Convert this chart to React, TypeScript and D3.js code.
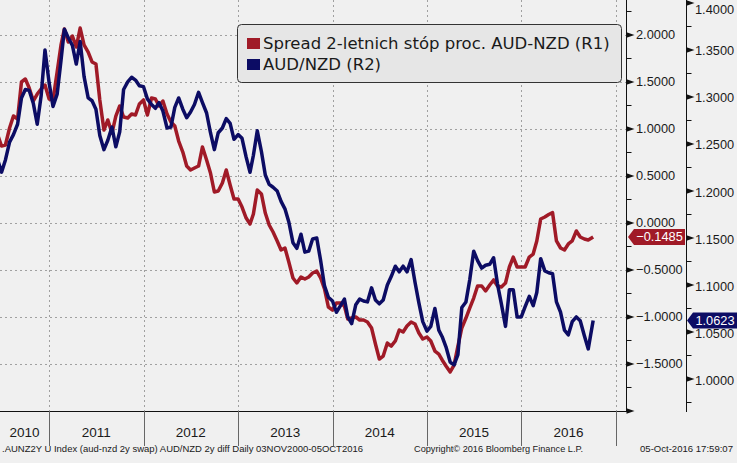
import React from "react";
import * as d3 from "d3";

// Semi-monthly samples starting 2010-06-16, last point 2016-10-05
const spread = [
  0.936, 0.819, 0.830, 1.011, 1.138, 1.106, 1.500, 1.532, 1.436, 1.298,
  1.372, 1.426, 1.468, 1.319, 1.309, 1.606, 1.894, 2.064, 1.926, 1.989,
  1.872, 2.074, 1.894, 1.819, 1.713, 1.691, 1.309, 0.989, 1.096, 0.957,
  1.138, 1.245, 1.128, 1.117, 1.160, 1.149, 1.266, 1.309, 1.149, 1.330,
  1.319, 1.245, 1.298, 1.160, 1.074, 1.032, 0.872, 0.755, 0.606, 0.564,
  0.585, 0.606, 0.809, 0.670, 0.532, 0.330, 0.340, 0.426, 0.564, 0.404,
  0.255, 0.255, 0.170, 0.053, -0.011, 0.096, 0.351, 0.309, 0.106, -0.021,
  -0.096, -0.191, -0.287, -0.266, -0.415, -0.585, -0.638, -0.574, -0.596, -0.574,
  -0.532, -0.511, -0.585, -0.702, -0.894, -0.926, -0.851, -0.851, -0.883, -1.021,
  -1.011, -1.000, -1.032, -1.032, -1.053, -1.117, -1.287, -1.447, -1.415, -1.277,
  -1.309, -1.255, -1.138, -1.160, -1.096, -1.053, -1.074, -1.170, -1.234, -1.213,
  -1.255, -1.362, -1.394, -1.457, -1.521, -1.585, -1.511, -1.309, -1.117, -1.011,
  -0.904, -0.798, -0.670, -0.670, -0.723, -0.660, -0.606, -0.670, -0.681, -0.638,
  -0.468, -0.362, -0.468, -0.468, -0.468, -0.362, -0.330, -0.191, 0.043, 0.064,
  0.090, 0.110, -0.191, -0.266, -0.287, -0.223, -0.191, -0.085, -0.149, -0.170,
  -0.181,
];

const audnzd = [
  1.233, 1.220, 1.233, 1.252, 1.260, 1.271, 1.299, 1.308, 1.307, 1.293,
  1.271, 1.301, 1.350, 1.315, 1.290, 1.303, 1.339, 1.372, 1.363, 1.355,
  1.335, 1.359, 1.322, 1.299, 1.296, 1.287, 1.259, 1.244, 1.254, 1.268,
  1.247, 1.263, 1.308, 1.316, 1.321, 1.318, 1.312, 1.311, 1.298, 1.292,
  1.288, 1.294, 1.285, 1.267, 1.268, 1.289, 1.299, 1.287, 1.278, 1.284,
  1.292, 1.305, 1.294, 1.283, 1.262, 1.244, 1.262, 1.267, 1.277, 1.272,
  1.255, 1.260, 1.256, 1.236, 1.220, 1.238, 1.264, 1.242, 1.217, 1.207,
  1.204, 1.200, 1.189, 1.181, 1.167, 1.145, 1.139, 1.154, 1.135, 1.136,
  1.149, 1.150, 1.126, 1.099, 1.087, 1.083, 1.071, 1.078, 1.085, 1.066,
  1.059, 1.079, 1.085, 1.083, 1.082, 1.097, 1.084, 1.080, 1.084, 1.100,
  1.109, 1.120, 1.114, 1.120, 1.114, 1.127, 1.103, 1.081, 1.061, 1.051,
  1.056, 1.075, 1.052, 1.045, 1.034, 1.018, 1.015, 1.026, 1.076, 1.082,
  1.106, 1.136, 1.126, 1.118, 1.121, 1.122, 1.129, 1.101, 1.080, 1.056,
  1.095, 1.095, 1.066, 1.066, 1.077, 1.088, 1.078, 1.092, 1.128, 1.115,
  1.113, 1.112, 1.082, 1.071, 1.052, 1.047, 1.061, 1.066, 1.062, 1.046,
  1.032,
];

const lastDate = new Date(2016, 9, 5);
const lastSpread = -0.1485;
const lastAudNzd = 1.0623;

const years = [2010, 2011, 2012, 2013, 2014, 2015, 2016, 2017];
const r1Ticks = [-2.0, -1.5, -1.0, -0.5, 0.0, 0.5, 1.0, 1.5, 2.0];
const r1Minor = [-1.75, -1.25, -0.75, -0.25, 0.25, 0.75, 1.25, 1.75, 2.25];
const r2Ticks = [1.0, 1.05, 1.1, 1.15, 1.2, 1.25, 1.3, 1.35, 1.4];
const r2Minor = [0.975, 1.025, 1.075, 1.125, 1.175, 1.225, 1.275, 1.325, 1.375];

const legendLabels = ["Spread 2-letnich stóp proc. AUD-NZD (R1)", "AUD/NZD (R2)"];
const footerLeft = ".AUNZ2Y U Index (aud-nzd 2y swap) AUD/NZD 2y diff  Daily 03NOV2000-05OCT2016";
const footerMid = "Copyright\u00A9 2016 Bloomberg Finance L.P.";
const footerRight = "05-Oct-2016 17:59:07";

const RED = "#a01a27";
const NAVY = "#0c0c64";
const BG = "#f0f0f0";

function sampleDate(k: number) {
  const m = 5 + Math.floor((k + 1) / 2);
  const day = (k + 1) % 2 === 0 ? 1 : 16;
  return new Date(2010, m, day);
}

export default function App() {
  const W = 737, H = 463;
  const plotR = 626, plotB = 411;
  const ax1 = 626.5, ax2 = 686.5;

  const x = d3.scaleTime().domain([new Date(2010, 5, 25), new Date(2017, 1, 9)]).range([0, plotR]);
  const yL = d3.scaleLinear().domain([-2, 2.3723]).range([plotB, 0]);
  const yR = d3.scaleLinear().domain([0.96596, 1.40319]).range([plotB, 0]);

  const redPts: [Date, number][] = spread.map((v, i) => [sampleDate(i), v]);
  redPts.push([lastDate, lastSpread]);
  const bluePts: [Date, number][] = audnzd.map((v, i) => [sampleDate(i), v]);
  bluePts.push([lastDate, lastAudNzd]);

  const redLine = d3.line<[Date, number]>().x(d => x(d[0])).y(d => yL(d[1]))(redPts) || "";
  const blueLine = d3.line<[Date, number]>().x(d => x(d[0])).y(d => yR(d[1]))(bluePts) || "";

  const yearX = years.map(y => x(new Date(y, 0, 1)));
  const tickFont = "'Liberation Sans', Arial, sans-serif";

  const tri = (ax: number, y: number) => `${ax},${y - 2.8} ${ax + 8},${y} ${ax},${y + 2.8}`;

  const redY = yL(lastSpread);
  const blueY = yR(lastAudNzd);

  return (
    <svg width={W} height={H} style={{ position: "fixed", left: 0, top: 0, display: "block" }}>
      <defs>
        <clipPath id="plotClip">
          <rect x={0} y={0} width={plotR} height={plotB} />
        </clipPath>
      </defs>
      <rect x={0} y={0} width={W} height={H} fill={BG} />

      {/* horizontal grid */}
      {r1Ticks.filter(v => v > -2).map(v => (
        <line key={"hg" + v} x1={0} x2={plotR} y1={yL(v) + 0.5} y2={yL(v) + 0.5}
          stroke="#a0a0a0" strokeWidth={1} strokeDasharray="2,3" />
      ))}
      {/* vertical grid */}
      {yearX.map((xx, i) => xx > 0 && xx < plotR ? (
        <line key={"vg" + i} x1={Math.round(xx) + 0.5} x2={Math.round(xx) + 0.5} y1={0} y2={plotB}
          stroke="#a0a0a0" strokeWidth={1} strokeDasharray="2,3" />
      ) : null)}

      {/* series */}
      <g clipPath="url(#plotClip)">
        <path d={redLine} fill="none" stroke={RED} strokeWidth={3.5} strokeLinejoin="round" />
        <path d={blueLine} fill="none" stroke={NAVY} strokeWidth={3.5} strokeLinejoin="round" />
      </g>

      {/* frame lines */}
      <line x1={0} x2={ax1} y1={plotB + 0.5} y2={plotB + 0.5} stroke="#111" strokeWidth={1} />
      <line x1={ax1} x2={ax1} y1={0} y2={plotB + 1} stroke="#111" strokeWidth={1} />
      <line x1={ax2} x2={ax2} y1={0} y2={plotB + 1} stroke="#111" strokeWidth={1} />

      {/* bottom year separators and labels */}
      {yearX.map((xx, i) => xx > 0 && xx < plotR ? (
        <line key={"ys" + i} x1={Math.round(xx) + 0.5} x2={Math.round(xx) + 0.5} y1={plotB} y2={446}
          stroke="#666" strokeWidth={1} />
      ) : null)}
      {years.slice(0, -1).map((yr, i) => {
        const a = Math.max(0, yearX[i]);
        const b = Math.min(plotR, yearX[i + 1]);
        if (b - a < 30) return null;
        return (
          <text key={"yl" + yr} x={(a + b) / 2} y={437} textAnchor="middle"
            fontFamily={tickFont} fontSize={13.5} fill="#1a1a1a">{yr}</text>
        );
      })}

      {/* R1 axis ticks */}
      {r1Ticks.map(v => (
        <polygon key={"t1" + v} points={tri(ax1, yL(v))} fill="#111" />
      ))}
      {r1Minor.map(v => (
        <line key={"m1" + v} x1={ax1} x2={ax1 + 5} y1={yL(v)} y2={yL(v)} stroke="#111" strokeWidth={1} />
      ))}
      {r1Ticks.filter(v => v > -2).map(v => (
        <text key={"l1" + v} x={636} y={yL(v) + 4.5} fontFamily={tickFont} fontSize={12.8} fill="#1a1a1a">
          {d3.format(".4f")(v)}
        </text>
      ))}

      {/* R2 axis ticks */}
      {r2Ticks.map(v => (
        <polygon key={"t2" + v} points={tri(ax2, yR(v))} fill="#111" />
      ))}
      {r2Minor.map(v => (
        <line key={"m2" + v} x1={ax2} x2={ax2 + 5} y1={yR(v)} y2={yR(v)} stroke="#111" strokeWidth={1} />
      ))}
      {r2Ticks.map(v => (
        <text key={"l2" + v} x={695} y={Math.max(yR(v), 8) + 5.5} fontFamily={tickFont} fontSize={12.8} fill="#1a1a1a">
          {d3.format(".4f")(v)}
        </text>
      ))}

      {/* last value tags */}
      <polygon points={`${628},${redY} ${634},${redY - 8} ${685},${redY - 8} ${685},${redY + 8} ${634},${redY + 8}`} fill={RED} />
      <text x={659.5} y={redY + 4.5} textAnchor="middle" fontFamily={tickFont} fontSize={12.8} fill="#fff">
        {d3.format(".4f")(lastSpread)}
      </text>
      <polygon points={`${687},${blueY} ${693},${blueY - 8} ${737},${blueY - 8} ${737},${blueY + 8} ${693},${blueY + 8}`} fill={NAVY} />
      <text x={715} y={blueY + 4.5} textAnchor="middle" fontFamily={tickFont} fontSize={12.8} fill="#fff">
        {d3.format(".4f")(lastAudNzd)}
      </text>

      {/* legend */}
      <rect x={237.5} y={24.5} width={384} height={58} rx={4} fill="#e6e6e6" stroke="#333" strokeWidth={1} />
      <rect x={247} y={38} width={13} height={11} fill={RED} />
      <rect x={247} y={59} width={13} height={11} fill={NAVY} />
      <text x={263} y={49} fontFamily="'DejaVu Sans', Verdana, sans-serif" fontSize={16.5} fill="#1a1a1a">{legendLabels[0]}</text>
      <text x={263} y={70} fontFamily="'DejaVu Sans', Verdana, sans-serif" fontSize={16.5} fill="#1a1a1a">{legendLabels[1]}</text>

      {/* footer */}
      <text x={2} y={452} fontFamily={tickFont} fontSize={9.5} fill="#1a1a1a" textLength={361} lengthAdjust="spacingAndGlyphs">{footerLeft}</text>
      <text x={414} y={452} fontFamily={tickFont} fontSize={9.5} fill="#1a1a1a" textLength={169} lengthAdjust="spacingAndGlyphs">{footerMid}</text>
      <text x={640} y={452} fontFamily={tickFont} fontSize={9.5} fill="#1a1a1a" textLength={93} lengthAdjust="spacingAndGlyphs">{footerRight}</text>
    </svg>
  );
}
